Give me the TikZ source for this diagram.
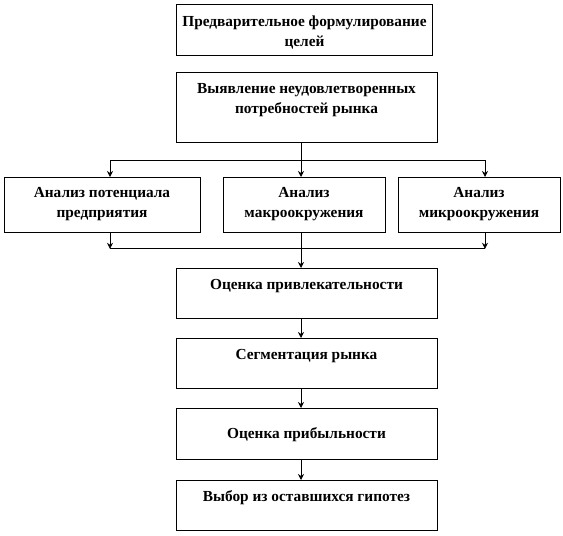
\documentclass[tikz,border=0pt]{standalone}
\usepackage{fontspec}
\setmainfont{Liberation Serif}
\usetikzlibrary{calc,arrows.meta}

\tikzset{
  blk/.style={draw, anchor=north, minimum width=195.75pt, inner sep=0pt},
  blktext/.style={anchor=north, align=center, inner sep=0pt, yshift=-8.5pt,
    font=\bfseries\fontsize{11.5}{15}\selectfont},
}

\begin{document}
\begin{tikzpicture}[>={Stealth[length=4.5pt,width=4.5pt]}, x=0.75pt, y=-0.75pt, line width=0.6pt]
  \useasboundingbox (0,0) rectangle (563,535);
  \coordinate (axis) at (301,0);
  \coordinate (lcol) at (110,0);
  \coordinate (rcol) at (485,0);
  % top of the chain
  \node[blk, minimum width=192pt, minimum height=38.25pt,
    label={[blktext]north:{Предварительное формулирование\\целей}}] (aims) at (304.5,4) {};
  \node[blk, minimum height=52.5pt,
    label={[blktext]north:{Выявление неудовлетворенных\\потребностей рынка}}] (needs) at (306.5,72) {};
  % three analyses
  \node[blk, minimum width=147pt, minimum height=41.25pt,
    label={[blktext, yshift=1pt]north:{Анализ потенциала\\предприятия}}] (potential) at (102,177) {};
  \node[blk, minimum width=121.5pt, minimum height=41.25pt,
    label={[blktext, yshift=1pt]north:{Анализ\\макроокружения}}] (macro) at (304,177) {};
  \node[blk, minimum width=121.5pt, minimum height=41.25pt,
    label={[blktext, yshift=1pt]north:{Анализ\\микроокружения}}] (micro) at (479,177) {};
  % lower chain
  \node[blk, minimum height=37.5pt,
    label={[blktext]north:{Оценка привлекательности}}] (attract) at (306.5,268) {};
  \node[blk, minimum height=37.5pt,
    label={[blktext]north:{Сегментация рынка}}] (segment) at (306.5,338) {};
  \node[blk, minimum height=38.25pt,
    label={[blktext, yshift=-6pt]north:{Оценка прибыльности}}] (profit) at (306.5,408) {};
  \node[blk, minimum height=37.5pt,
    label={[blktext, yshift=1pt]north:{Выбор из оставшихся  гипотез}}] (choice) at (306.5,480) {};

  % branching
  \coordinate (split) at ($(needs.south -| axis)+(0,18)$);
  \draw (needs.south -| axis) -- (split);
  \draw[->] (split) -| (lcol |- potential.north);
  \draw[->] (split) -| (rcol |- micro.north);
  \draw[->] (split) -- (axis |- macro.north);
  % joining
  \coordinate (join) at ($(macro.south -| axis)+(0,16)$);
  \draw[->] (lcol |- potential.south) -- (lcol |- join);
  \draw[->] (rcol |- micro.south) -- (rcol |- join);
  \draw (lcol |- join) -- (rcol |- join);
  \draw[->] (axis |- macro.south) -- (axis |- attract.north);
  \foreach \a/\b in {attract/segment, segment/profit, profit/choice}
    \draw[->] (\a.south -| axis) -- (\b.north -| axis);
\end{tikzpicture}
\end{document}
